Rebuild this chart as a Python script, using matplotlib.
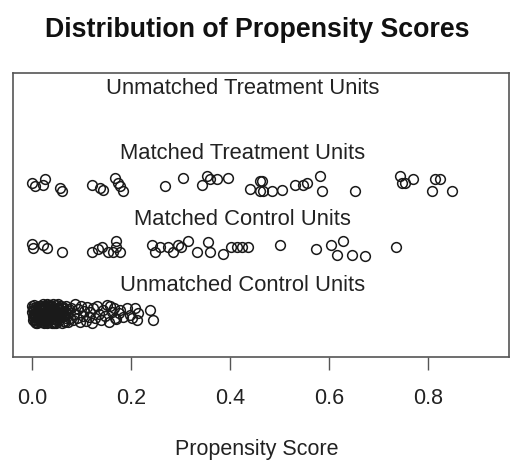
import matplotlib
matplotlib.use("Agg")
import matplotlib.pyplot as plt

plt.rcParams["font.family"] = ["Liberation Sans", "DejaVu Sans"]

# row labels and their y positions
row_labels = ["Unmatched Treatment Units", "Matched Treatment Units",
              "Matched Control Units", "Unmatched Control Units"]
label_y = [4, 3, 2, 1]
x_ticks = [0.0, 0.2, 0.4, 0.6, 0.8]

# matched treatment units (propensity score, jittered y)
treat_x = [0.001, 0.006, 0.026, 0.023, 0.057, 0.060, 0.121, 0.137, 0.143, 0.168,
           0.174, 0.178, 0.184, 0.269, 0.305, 0.343, 0.354, 0.360, 0.374, 0.396,
           0.440, 0.461, 0.461, 0.465, 0.467, 0.485, 0.505, 0.531, 0.547, 0.556,
           0.582, 0.586, 0.653, 0.743, 0.747, 0.754, 0.770, 0.814, 0.824, 0.808,
           0.848]
treat_y = [2.49, 2.44, 2.54, 2.46, 2.41, 2.37, 2.46, 2.41, 2.38, 2.56,
           2.49, 2.44, 2.37, 2.44, 2.56, 2.46, 2.59, 2.54, 2.54, 2.56,
           2.40, 2.52, 2.36, 2.52, 2.36, 2.36, 2.38, 2.46, 2.46, 2.49,
           2.59, 2.37, 2.36, 2.59, 2.49, 2.49, 2.54, 2.54, 2.54, 2.36,
           2.36]

# matched control units
ctrl_x = [0.000, 0.003, 0.023, 0.030, 0.060, 0.121, 0.134, 0.141, 0.154, 0.164,
          0.171, 0.171, 0.178, 0.242, 0.248, 0.259, 0.275, 0.285, 0.296, 0.302,
          0.316, 0.333, 0.356, 0.360, 0.386, 0.403, 0.414, 0.424, 0.437, 0.501,
          0.575, 0.605, 0.629, 0.616, 0.646, 0.673, 0.735]
ctrl_y = [1.56, 1.50, 1.54, 1.50, 1.43, 1.43, 1.49, 1.51, 1.44, 1.43,
          1.61, 1.51, 1.44, 1.54, 1.43, 1.51, 1.51, 1.43, 1.54, 1.51,
          1.61, 1.43, 1.59, 1.43, 1.41, 1.51, 1.51, 1.51, 1.51, 1.54,
          1.49, 1.54, 1.61, 1.39, 1.39, 1.38, 1.52]

# unmatched control units
unm_x = [0.001, 0.003, 0.004, 0.006, 0.007, 0.009, 0.010, 0.012, 0.013, 0.015,
         0.002, 0.005, 0.008, 0.011, 0.014, 0.016, 0.018, 0.019, 0.021, 0.022,
         0.024, 0.025, 0.027, 0.028, 0.030, 0.031, 0.033, 0.034, 0.036, 0.037,
         0.017, 0.020, 0.023, 0.026, 0.029, 0.032, 0.035, 0.038, 0.039, 0.041,
         0.042, 0.044, 0.045, 0.047, 0.048, 0.050, 0.051, 0.053, 0.054, 0.056,
         0.040, 0.043, 0.046, 0.049, 0.052, 0.055, 0.057, 0.058, 0.060, 0.061,
         0.063, 0.064, 0.066, 0.067, 0.069, 0.070, 0.072, 0.074, 0.076, 0.078,
         0.000, 0.006, 0.012, 0.018, 0.024, 0.030, 0.036, 0.042, 0.048, 0.062,
         0.004, 0.009, 0.014, 0.019, 0.025, 0.031, 0.037, 0.043, 0.049, 0.055,
         0.002, 0.008, 0.015, 0.021, 0.027, 0.033, 0.040, 0.046, 0.053, 0.059,
         0.005, 0.011, 0.017, 0.023, 0.029, 0.035, 0.041, 0.047, 0.058, 0.065,
         0.003, 0.010, 0.016, 0.022, 0.028, 0.034, 0.044, 0.052, 0.068, 0.071,
         0.080, 0.083, 0.085, 0.088, 0.091, 0.094, 0.097, 0.100, 0.103, 0.106,
         0.109, 0.112, 0.115, 0.118, 0.121, 0.124, 0.127, 0.131, 0.135, 0.139,
         0.143, 0.147, 0.151, 0.156, 0.161, 0.166, 0.171, 0.176, 0.158, 0.168,
         0.178, 0.192, 0.198, 0.208, 0.214, 0.212, 0.238, 0.244, 0.185, 0.203]
unm_y = [0.62, 0.41, 0.55, 0.37, 0.48, 0.60, 0.44, 0.52, 0.39, 0.58,
         0.46, 0.63, 0.35, 0.51, 0.57, 0.42, 0.49, 0.61, 0.38, 0.54,
         0.45, 0.59, 0.40, 0.53, 0.64, 0.36, 0.50, 0.43, 0.56, 0.47,
         0.39, 0.58, 0.44, 0.62, 0.51, 0.37, 0.55, 0.48, 0.60, 0.42,
         0.53, 0.36, 0.57, 0.46, 0.63, 0.40, 0.50, 0.59, 0.43, 0.55,
         0.61, 0.38, 0.52, 0.45, 0.64, 0.41, 0.56, 0.49, 0.35, 0.58,
         0.47, 0.60, 0.39, 0.54, 0.44, 0.62, 0.50, 0.37, 0.57, 0.43,
         0.52, 0.45, 0.60, 0.38, 0.56, 0.42, 0.63, 0.48, 0.36, 0.53,
         0.50, 0.57, 0.43, 0.61, 0.36, 0.54, 0.47, 0.64, 0.40, 0.49,
         0.55, 0.38, 0.62, 0.45, 0.52, 0.59, 0.35, 0.56, 0.44, 0.61,
         0.42, 0.54, 0.48, 0.64, 0.39, 0.46, 0.58, 0.37, 0.51, 0.47,
         0.59, 0.35, 0.50, 0.56, 0.41, 0.63, 0.52, 0.45, 0.38, 0.55,
         0.59, 0.41, 0.50, 0.64, 0.44, 0.57, 0.37, 0.62, 0.47, 0.54,
         0.39, 0.60, 0.45, 0.52, 0.35, 0.58, 0.43, 0.61, 0.49, 0.40,
         0.56, 0.46, 0.63, 0.38, 0.53, 0.59, 0.42, 0.51, 0.61, 0.44,
         0.55, 0.58, 0.48, 0.58, 0.51, 0.40, 0.55, 0.40, 0.45, 0.44]

fig = plt.figure(figsize=(5.14, 4.61), dpi=100)
ax = fig.add_axes([13 / 514, 1 - 357 / 461, 496 / 514, 284 / 461])

style = dict(marker="o", linestyle="none", markersize=7.0,
             markerfacecolor="none", markeredgecolor="#1a1a1a", markeredgewidth=1.1)
ax.plot(treat_x, treat_y, **style)
ax.plot(ctrl_x, ctrl_y, **style)
ax.plot(unm_x, unm_y, **style)

for lab, y in zip(row_labels, label_y):
    ax.text(0.426, y - 0.07, lab, ha="center", va="center", fontsize=15.8, color="#222")

ax.set_xlim(-0.038, 0.964)
ax.set_ylim(-0.16, 4.16)
ax.set_yticks([])
ax.set_xticks(x_ticks)
ax.set_xticklabels([f"{t:.1f}" for t in x_ticks])
ax.tick_params(axis="x", length=9, width=1.0, color="#555", pad=13,
               labelsize=15.5, labelcolor="#222")
for s in ax.spines.values():
    s.set_color("#555")
    s.set_linewidth(1.2)

fig.text(0.5, 1 - 30 / 461, "Distribution of Propensity Scores", ha="center",
         va="center", fontsize=19.3, fontweight="bold", color="#111")
fig.text(0.5, 1 - 449 / 461, "Propensity Score", ha="center", va="center",
         fontsize=15.5, color="#222")

fig.savefig("out.png", dpi=100)
